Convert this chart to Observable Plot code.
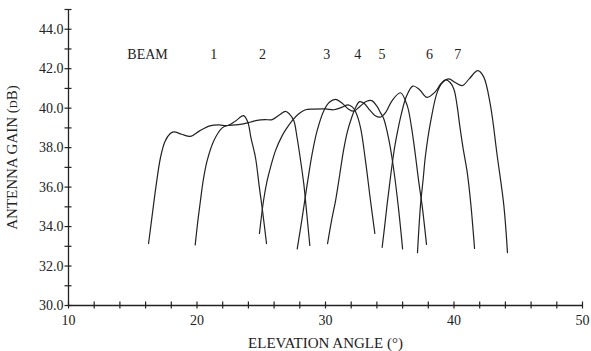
<!DOCTYPE html>
<html>
<head>
<meta charset="utf-8">
<script src="https://cdn.jsdelivr.net/npm/d3@7"></script>
<script src="https://cdn.jsdelivr.net/npm/@observablehq/plot@0.6"></script>
<style>
  html, body { margin: 0; padding: 0; background: #fff; }
</style>
</head>
<body>
<div id="chart"></div>
<script>
// Beam patterns: [elevation angle (deg), antenna gain (dB)]
const beam1 = [[16.23,33.14],[16.5,34.5],[16.8,36.0],[17.16,37.5],[17.5,38.3],[17.9,38.7],[18.2,38.8],[18.8,38.68],[19.5,38.57],[20.2,38.85],[21.0,39.1],[21.7,39.15],[22.4,39.12],[23.0,39.35],[23.62,39.62],[23.95,39.3],[24.2,38.5],[24.55,37.5],[24.85,36.0],[25.1,34.8],[25.41,33.14]];
const beam2 = [[19.86,33.07],[20.05,34.2],[20.27,35.32],[20.5,36.4],[20.79,37.34],[21.31,38.35],[21.96,39.0],[22.35,39.12],[23.0,39.15],[23.6,39.2],[24.2,39.3],[24.68,39.38],[25.3,39.42],[25.85,39.42],[26.4,39.65],[26.89,39.84],[27.2,39.7],[27.53,39.37],[27.79,38.5],[28.05,37.4],[28.31,36.16],[28.55,34.6],[28.78,33.04]];
const beam3 = [[24.86,33.65],[25.18,35.32],[25.45,36.3],[25.72,37.0],[26.11,37.85],[26.63,38.61],[27.0,39.0],[27.41,39.37],[27.9,39.7],[28.44,39.92],[29.09,39.95],[30.0,39.96],[30.65,39.92],[31.3,40.05],[31.75,40.17],[32.1,40.05],[32.35,39.8],[32.72,39.03],[33.11,37.34],[33.5,35.32],[33.84,33.65]];
const beam4 = [[27.8,32.87],[28.19,34.47],[28.58,36.16],[28.96,37.68],[29.35,38.86],[29.87,39.87],[30.3,40.3],[30.78,40.45],[31.3,40.25],[31.8,39.95],[32.2,39.85],[32.7,40.1],[33.2,40.35],[33.6,40.38],[34.0,40.1],[34.3,39.75],[34.54,39.45],[34.93,38.4],[35.32,36.84],[35.7,34.81],[36.0,32.87]];
const beam5 = [[30.16,33.14],[30.5,34.4],[30.78,35.3],[31.1,36.6],[31.4,37.85],[31.7,38.8],[32.0,39.45],[32.35,40.05],[32.65,40.33],[33.0,40.25],[33.45,39.9],[33.9,39.6],[34.3,39.55],[34.7,39.8],[35.2,40.4],[35.84,40.78],[36.36,40.13],[36.7,39.0],[37.0,37.6],[37.25,36.3],[37.52,35.06],[37.86,33.1]];
const beam6 = [[34.41,32.95],[34.6,34.0],[34.8,35.15],[35.0,36.2],[35.19,37.17],[35.4,38.1],[35.6,38.8],[35.9,39.7],[36.3,40.6],[36.8,41.12],[37.3,40.95],[37.9,40.55],[38.5,40.8],[39.0,41.25],[39.35,41.43],[39.7,41.3],[40.0,40.95],[40.24,40.13],[40.45,39.1],[40.7,38.0],[41.03,36.75],[41.3,35.2],[41.6,32.89]];
const beam7 = [[37.16,32.68],[37.39,35.06],[37.6,36.4],[37.78,37.6],[38.17,39.28],[38.69,40.8],[39.1,41.3],[39.6,41.48],[40.1,41.3],[40.64,41.14],[41.2,41.5],[41.85,41.9],[42.3,41.6],[42.84,40.13],[43.36,37.6],[43.88,35.06],[44.16,32.68]];

const beamNames = ["BEAM", "1", "2", "3", "4", "5", "6", "7"];
const beamLabelX = [16.15, 21.3, 25.1, 30.1, 32.5, 34.4, 38.1, 40.3];
const beamLabelY = 42.72;

const xMinorTicks = d3.range(10, 51, 2);
const xMajorTicks = [10, 20, 30, 40, 50];
const yMinorTicks = d3.range(30, 46, 1);
const yMajorTicks = [30, 32, 34, 36, 38, 40, 42, 44];

const xTitle = "ELEVATION ANGLE (°)";
const yTitle = "ANTENNA GAIN (dB)";

const beams = [beam1, beam2, beam3, beam4, beam5, beam6, beam7];
const rows = beams.flatMap((b, i) => b.map(([x, y]) => ({beam: i + 1, x, y})));
const labels = beamNames.map((name, i) => ({name, x: beamLabelX[i], y: beamLabelY}));

const font = "'Liberation Serif', 'Times New Roman', serif";
const ink = "#222";

const chart = Plot.plot({
  width: 591,
  height: 351,
  marginLeft: 68,
  marginRight: 9,
  marginTop: 9,
  marginBottom: 46,
  x: {domain: [10, 50]},
  y: {domain: [30, 45]},
  style: {fontFamily: font, fontSize: "14px", color: ink, background: "#fff"},
  marks: [
    Plot.ruleX([10], {stroke: ink, strokeWidth: 1.3}),
    Plot.ruleY([30], {stroke: ink, strokeWidth: 1.3}),
    Plot.axisY(yMinorTicks, {tickSize: 7, dx: 3.5, tickFormat: () => "", label: null, stroke: ink, strokeWidth: 1.2}),
    Plot.axisY(yMajorTicks, {tickSize: 0, tickPadding: 5, tickFormat: d => d.toFixed(1), label: null, fill: ink, fontSize: 14}),
    Plot.axisX(xMinorTicks, {tickSize: 7, dy: -3.5, tickFormat: () => "", label: null, stroke: ink, strokeWidth: 1.2}),
    Plot.axisX(xMajorTicks, {tickSize: 0, tickPadding: 10, tickFormat: d => String(d), label: null, fill: ink, fontSize: 14}),
    Plot.line(rows, {x: "x", y: "y", z: "beam", curve: "catmull-rom", stroke: ink, strokeWidth: 1.2}),
    Plot.text(labels, {x: "x", y: "y", text: "name", fill: ink, fontSize: 14, lineAnchor: "middle"}),
    Plot.text([xTitle], {frameAnchor: "bottom", textAnchor: "middle", lineAnchor: "bottom", dy: 42, fill: ink, fontSize: 15}),
    Plot.text([yTitle], {frameAnchor: "left", textAnchor: "middle", rotate: -90, dx: -56, lineAnchor: "middle", fill: ink, fontSize: 15, fontVariant: "small-caps"})
  ]
});
document.getElementById("chart").appendChild(chart);
</script>
</body>
</html>
